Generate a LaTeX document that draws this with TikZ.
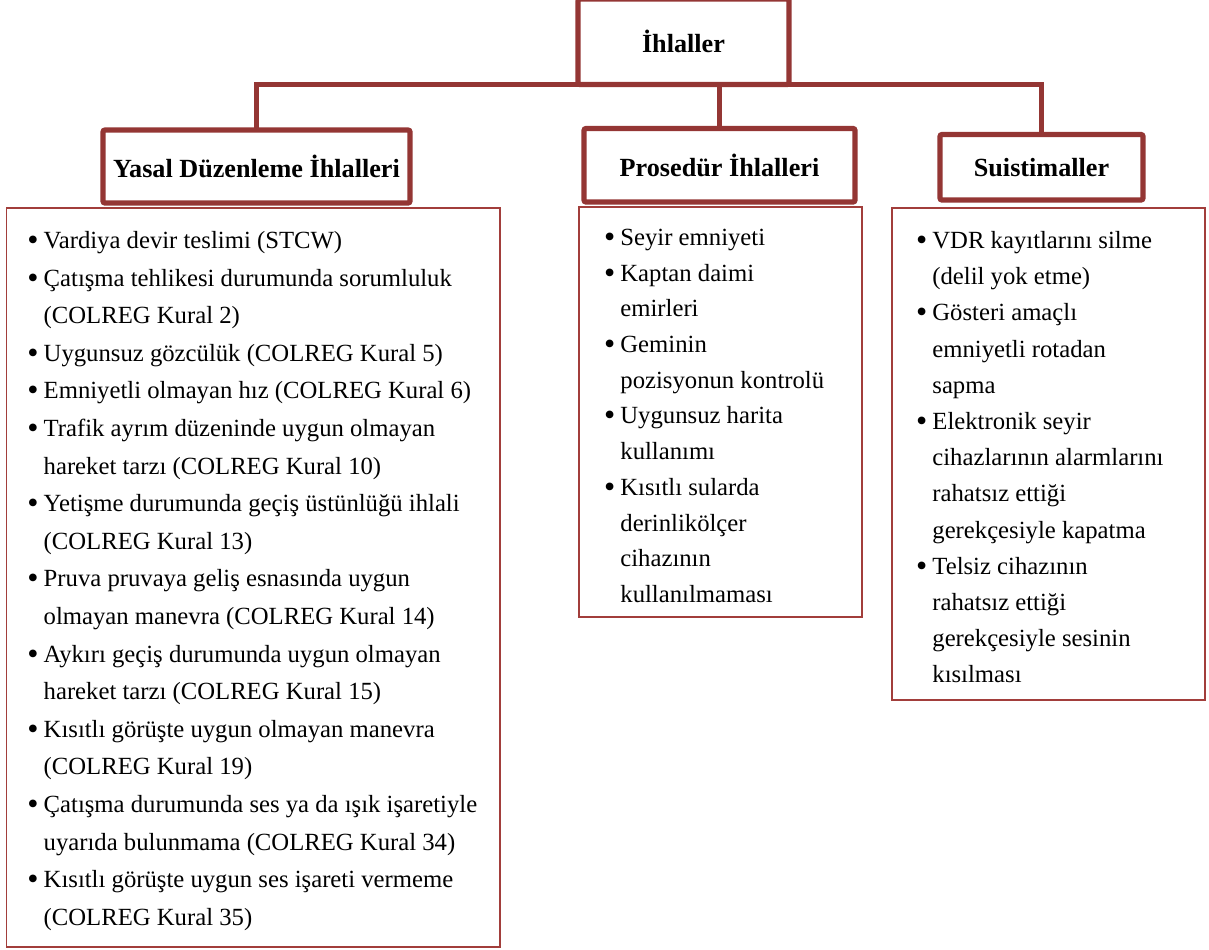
\documentclass[tikz,border=0pt]{standalone}
\usepackage{fontspec}
\setmainfont{Liberation Serif}
\usetikzlibrary{positioning}
\definecolor{hdrred}{HTML}{943634}
\definecolor{boxred}{HTML}{A23E3B}
\newcommand{\itm}{\llap{\raisebox{-1pt}{\fontsize{16}{16}\selectfont\textbullet}\hspace{2.6pt}}}
\newcommand{\firstln}{\rule{0pt}{10pt}}

\begin{document}
\begin{tikzpicture}[x=0.5pt, y=-0.5pt,
  head node/.style={draw=hdrred, line width=2.6pt, rounded corners=1pt, outer sep=0pt,
    inner sep=0pt, font=\fontsize{13.1}{15}\selectfont\bfseries},
  list node/.style={draw=boxred, line width=0.9pt, inner sep=0pt},
  list text/.style={anchor=north west, align=left, inner sep=0pt},
  link/.style={draw=hdrred, line width=2.6pt}]
\useasboundingbox (0,0) rectangle (1209,949);

% headings
\node[head node, minimum width=105.5pt, minimum height=42.75pt] (ihl) at (683.5,41.75) {İhlaller};
\node[head node, minimum width=153.5pt, minimum height=36.5pt] (yas) at (256.5,166.5) {Yasal Düzenleme İhlalleri};
\node[head node, minimum width=135.5pt, minimum height=36.75pt] (pro) at (719.5,165.25) {Prosedür İhlalleri};
\node[head node, minimum width=101.5pt, minimum height=32.75pt] (sui) at (1041.5,167.25) {Suistimaller};

% list frames
\node[list node, minimum width=246.75pt, minimum height=369.2pt, below=2.2pt of yas, xshift=-1.6pt] (yaslist) {};
\node[list node, minimum width=141.2pt, minimum height=204.85pt, below=2.2pt of pro, xshift=0.5pt] (prolist) {};
\node[list node, minimum width=156.65pt, minimum height=245.85pt, below=3.7pt of sui, xshift=3.4pt] (suilist) {};

% connectors
\draw[link] (yas.north) |- (ihl.south) -| (sui.north);
\draw[link] (pro.north) -- (pro.north |- ihl.south);

% list texts
\node[list text, font=\fontsize{12.35}{18.8}\selectfont] (yastext) at (43.3,228) {%
\firstln\itm Vardiya devir teslimi (STCW)\\
\itm Çatışma tehlikesi durumunda sorumluluk\\
(COLREG Kural 2)\\
\itm Uygunsuz gözcülük (COLREG Kural 5)\\
\itm Emniyetli olmayan hız (COLREG Kural 6)\\
\itm Trafik ayrım düzeninde uygun olmayan\\
hareket tarzı (COLREG Kural 10)\\
\itm Yetişme durumunda geçiş üstünlüğü ihlali\\
(COLREG Kural 13)\\
\itm Pruva pruvaya geliş esnasında uygun\\
olmayan manevra (COLREG Kural 14)\\
\itm Aykırı geçiş durumunda uygun olmayan\\
hareket tarzı (COLREG Kural 15)\\
\itm Kısıtlı görüşte uygun olmayan manevra\\
(COLREG Kural 19)\\
\itm Çatışma durumunda ses ya da ışık işaretiyle\\
uyarıda bulunmama (COLREG Kural 34)\\
\itm Kısıtlı görüşte uygun ses işareti vermeme\\
(COLREG Kural 35)};

\node[list text, font=\fontsize{12.35}{17.85}\selectfont] (protext) at (620,225) {%
\firstln\itm Seyir emniyeti\\
\itm Kaptan daimi\\
emirleri\\
\itm Geminin\\
pozisyonun kontrolü\\
\itm Uygunsuz harita\\
kullanımı\\
\itm Kısıtlı sularda\\
derinlikölçer\\
cihazının\\
kullanılmaması};

\node[list text, font=\fontsize{12.35}{18.1}\selectfont] (suitext) at (932,228) {%
\firstln\itm VDR kayıtlarını silme\\
(delil yok etme)\\
\itm Gösteri amaçlı\\
emniyetli rotadan\\
sapma\\
\itm Elektronik seyir\\
cihazlarının alarmlarını\\
rahatsız ettiği\\
gerekçesiyle kapatma\\
\itm Telsiz cihazının\\
rahatsız ettiği\\
gerekçesiyle sesinin\\
kısılması};

\end{tikzpicture}
\end{document}
